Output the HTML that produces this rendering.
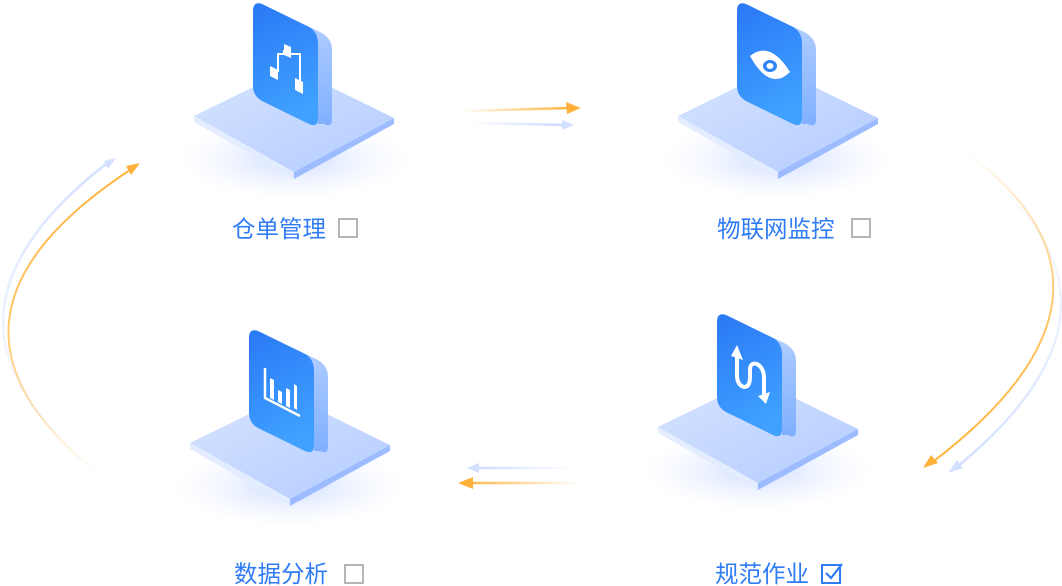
<!DOCTYPE html>
<html><head><meta charset="utf-8"><style>
html,body{margin:0;padding:0;background:#fff;}
svg{display:block}
text{font-family:"Liberation Sans","Noto Sans CJK SC",sans-serif;}
</style></head><body>
<svg width="1062" height="586" viewBox="0 0 1062 586" xmlns="http://www.w3.org/2000/svg">
<defs>
<linearGradient id="card" x1="0" y1="0" x2="0.3" y2="1">
<stop offset="0" stop-color="#2a78f5"/><stop offset="1" stop-color="#3fa0ff"/></linearGradient>
<linearGradient id="side" x1="0" y1="0" x2="0" y2="1">
<stop offset="0" stop-color="#b9d2ff"/><stop offset="1" stop-color="#7fb0ff"/></linearGradient>
<linearGradient id="plate" x1="0" y1="0" x2="1" y2="1">
<stop offset="0" stop-color="#d6e4ff"/><stop offset="1" stop-color="#b3cbff"/></linearGradient>
<radialGradient id="shadow" cx="0.5" cy="0.5" r="0.5">
<stop offset="0" stop-color="#c9d8ff" stop-opacity="0.9"/><stop offset="1" stop-color="#e8efff" stop-opacity="0"/></radialGradient>
<linearGradient id="orH" x1="0" y1="0" x2="1" y2="0">
<stop offset="0" stop-color="#ffb13b" stop-opacity="0"/><stop offset="1" stop-color="#ffb13b"/></linearGradient>
<linearGradient id="blH" x1="0" y1="0" x2="1" y2="0">
<stop offset="0" stop-color="#c9d8ff" stop-opacity="0"/><stop offset="1" stop-color="#c9d8ff"/></linearGradient>
<linearGradient id="orB" gradientUnits="userSpaceOnUse" x1="580" y1="0" x2="460" y2="0">
<stop offset="0" stop-color="#ffb13b" stop-opacity="0"/><stop offset="1" stop-color="#ffb13b"/></linearGradient>
<linearGradient id="blB" gradientUnits="userSpaceOnUse" x1="575" y1="0" x2="465" y2="0">
<stop offset="0" stop-color="#c9d8ff" stop-opacity="0"/><stop offset="1" stop-color="#c9d8ff"/></linearGradient>
<linearGradient id="orV" x1="0" y1="0" x2="0" y2="1">
<stop offset="0" stop-color="#ffb13b" stop-opacity="0"/><stop offset="0.5" stop-color="#ffc86a"/><stop offset="1" stop-color="#ffb13b"/></linearGradient>
<linearGradient id="orV2" x1="0" y1="1" x2="0" y2="0">
<stop offset="0" stop-color="#ffb13b" stop-opacity="0"/><stop offset="0.5" stop-color="#ffc86a"/><stop offset="1" stop-color="#ffb13b"/></linearGradient>
<linearGradient id="blV" x1="0" y1="0" x2="0" y2="1">
<stop offset="0" stop-color="#dde7ff" stop-opacity="0"/><stop offset="1" stop-color="#d3e0ff"/></linearGradient>
<linearGradient id="blV2" x1="0" y1="1" x2="0" y2="0">
<stop offset="0" stop-color="#dde7ff" stop-opacity="0"/><stop offset="1" stop-color="#d3e0ff"/></linearGradient>
<g id="base">
<ellipse cx="294" cy="160" rx="115" ry="40" fill="url(#shadow)"/>
<path d="M194 116 L292 68 L394 118 L294 172 Z" fill="url(#plate)"/>
<path d="M194 116 L294 172 L294 179 L194 122 Z" fill="#e4edff"/>
<path d="M294 172 L394 118 L394 124 L294 179 Z" fill="#9dbcff"/>
<path d="M262 4 L320 32 Q332 38 332 50 L332 120 Q332 128 324 124 L318 124 L318 45 Z" fill="url(#side)"/>
<path d="M262 4 L309 27 Q318 32 318 44 L318 118 Q318 128 309 124 L262 101 Q253 96 253 86 L253 11 Q253 1 262 4 Z" fill="url(#card)"/>
</g>
</defs>

<!-- connectors -->
<line x1="462" y1="111" x2="570" y2="108" stroke="url(#orH)" stroke-width="2.5"/>
<path d="M581 108 L566 102 L567 114 Z" fill="#ffb13b"/>
<line x1="470" y1="123" x2="566" y2="125" stroke="url(#blH)" stroke-width="2.5"/>
<path d="M574 125 L562 120 L562 130 Z" fill="#d3e0ff"/>

<line x1="580" y1="483" x2="468" y2="483" stroke="url(#orB)" stroke-width="2.5"/>
<path d="M458 483 L473 477 L473 489 Z" fill="#ffb13b"/>
<line x1="575" y1="468" x2="475" y2="468" stroke="url(#blB)" stroke-width="2.5"/>
<path d="M467 468 L479 463 L479 473 Z" fill="#d3e0ff"/>

<path d="M966 160 Q1160 300 958 466" fill="none" stroke="url(#blV)" stroke-width="2.5"/>
<path d="M948 473 L957 460 L963 468 Z" fill="#d3e0ff"/>
<path d="M963 150 Q1157 290 934 461" fill="none" stroke="url(#orV)" stroke-width="2"/>
<path d="M923 468 L931 455 L938 463 Z" fill="#ffb13b"/>

<path d="M95 468 Q-94 320 106 164" fill="none" stroke="url(#blV2)" stroke-width="2.5"/>
<path d="M116 158 L104 161 L108 169 Z" fill="#d3e0ff"/>
<path d="M100 475 Q-97 320 130 170" fill="none" stroke="url(#orV2)" stroke-width="2"/>
<path d="M140 163 L126 166 L131 175 Z" fill="#ffb13b"/>

<!-- nodes -->
<use href="#base"/>
<use href="#base" transform="translate(484,0)"/>
<use href="#base" transform="translate(464,311)"/>
<use href="#base" transform="translate(-4,327)"/>

<!-- icons -->
<g fill="#fff" stroke="#fff">
<path d="M278 72 L278 54 L284 54 L284 50 M290 54 L300 54 L300 82" fill="none" stroke-width="2"/>
<path d="M284 44 L291 47 L291 58 L284 55 Z" stroke="none"/>
<path d="M270 66 L278 70 L278 80 L270 76 Z" stroke="none"/>
<path d="M295 78 L303 82 L303 94 L295 90 Z" stroke="none"/>
<path d="M750 56 Q770 40 790 72 Q770 92 750 56 Z" stroke="none"/>
<ellipse cx="770" cy="66" rx="7" ry="6" fill="#2f84f8" stroke="none"/>
<ellipse cx="770" cy="66" rx="3.5" ry="3" fill="#fff" stroke="none"/>
<path d="M737 352 L737 375 Q737 385 744 387 Q750 387 750 377 L750 370 Q750 362 757 364 Q764 368 764 378 L764 398" fill="none" stroke-width="4" stroke-linecap="round"/>
<path d="M731 356 L737 345 L743 360 Z" stroke="none"/>
<path d="M758 396 L766 404 L770 392 Z" stroke="none"/>
<path d="M265 368 L265 398 L300 416" fill="none" stroke-width="2.5"/>
<path d="M270 378 L274 380 L274 400 L270 398 Z M278 390 L282 392 L282 404 L278 402 Z M286 388 L290 390 L290 408 L286 406 Z M294 384 L297 386 L297 410 L294 408 Z" stroke="none"/>
</g>

<!-- labels -->
<g font-size="23.5" fill="#2f7cf6">
<text x="232" y="237">仓单管理</text>
<text x="717" y="237">物联网监控</text>
<text x="234" y="582">数据分析</text>
<text x="715" y="582">规范作业</text>
</g>
<g fill="none" stroke="#b5b5b5" stroke-width="2">
<rect x="339" y="219" width="18" height="18"/>
<rect x="852" y="219" width="18" height="18"/>
<rect x="345" y="565" width="18" height="18"/>
</g>
<rect x="822" y="565" width="18" height="18" fill="none" stroke="#2f7cf6" stroke-width="2"/>
<path d="M826 573 L831 578 L842 564" fill="none" stroke="#2f7cf6" stroke-width="2.2"/>
</svg>
</body></html>
